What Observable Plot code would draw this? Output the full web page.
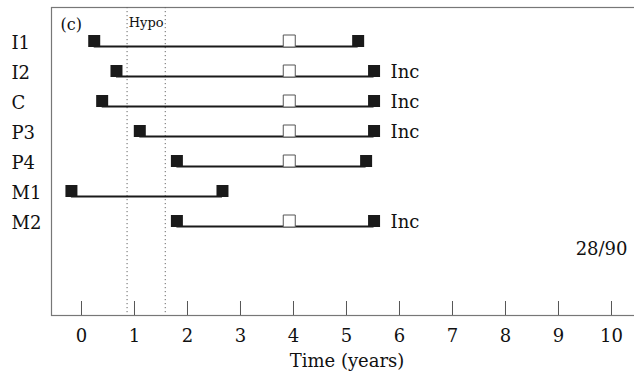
<!DOCTYPE html>
<html>
<head>
<meta charset="utf-8">
<script src="https://cdn.jsdelivr.net/npm/d3@7"></script>
<script src="https://cdn.jsdelivr.net/npm/@observablehq/plot@0.6"></script>
<style>
  html, body { margin: 0; padding: 0; background: #fff; }
  svg text { font-family: "DejaVu Serif", "Liberation Serif", serif; }
</style>
</head>
<body>
<div id="chart"></div>
<script>
// Data
const rows   = ["I1", "I2", "C", "P3", "P4", "M1", "M2"];
const starts = [0.24, 0.66, 0.39, 1.10, 1.80, -0.19, 1.80];
const ends   = [5.22, 5.52, 5.52, 5.52, 5.37, 2.66, 5.52];
const opens  = [3.92, 3.92, 3.92, 3.92, 3.92, null, 3.92];
const inc    = [false, true, true, true, false, false, true];
const hypo   = [0.86, 1.58];
const xTicks = [0, 1, 2, 3, 4, 5, 6, 7, 8, 9, 10];
const panelLabel = "(c)";
const hypoLabel = "Hypo";
const countLabel = "28/90";
const xLabel = "Time (years)";

const table = rows.map((r, i) => ({row: r, start: starts[i], end: ends[i], open: opens[i], inc: inc[i]}));
const endpoints = table.flatMap(d => [{row: d.row, x: d.start}, {row: d.row, x: d.end}]);
const openPts = table.filter(d => d.open != null).map(d => ({row: d.row, x: d.open}));
const incPts = table.filter(d => d.inc);

const serif = "DejaVu Serif";
const sqR = 12 / Math.sqrt(Math.PI);

const chart = Plot.plot({
  width: 634,
  height: 379,
  marginLeft: 51,
  marginRight: 0,
  marginTop: 7,
  marginBottom: 64,
  style: {fontFamily: serif, background: "#fff", color: "#111"},
  x: {domain: [-0.566, 10.434]},
  y: {type: "point", domain: rows, range: [46, 226.6], padding: 0, axis: null},
  marks: [
    Plot.frame({stroke: "#777", strokeWidth: 1.2, insetRight: -3}),
    Plot.ruleX(hypo, {x: d => d, stroke: "#666", strokeWidth: 1, strokeDasharray: "1.2,2.8"}),
    Plot.tickX(xTicks, {x: d => d, insetTop: 294, stroke: "#555", strokeWidth: 1}),
    Plot.axisX({ticks: xTicks, tickSize: 0, tickPadding: 14, fontSize: 18, fontFamily: serif, label: null, tickFormat: d => String(d)}),
    Plot.ruleY(table, {y: "row", x1: "start", x2: "end", stroke: "#1a1a1a", strokeWidth: 1.8}),
    Plot.dot(openPts, {x: "x", y: "row", symbol: "square", r: sqR, dy: -5.5, fill: "#fff", stroke: "#555", strokeWidth: 1}),
    Plot.dot(endpoints, {x: "x", y: "row", symbol: "square", r: sqR, dy: -5.5, fill: "#1a1a1a"}),
    Plot.text(table, {y: "row", text: "row", frameAnchor: "left", textAnchor: "start", dx: -40, dy: -3.5, fontSize: 18, fontFamily: serif}),
    Plot.text(incPts, {x: "end", y: "row", text: () => "Inc", textAnchor: "start", dx: 16.5, dy: -4.5, fontSize: 18, fontFamily: serif}),
    Plot.text([panelLabel], {text: d => d, frameAnchor: "top-left", textAnchor: "start", lineAnchor: "top", dx: 9, dy: 11, fontSize: 16, fontFamily: serif}),
    Plot.text([hypoLabel], {x: () => d3.mean(hypo), text: d => d, frameAnchor: "top", lineAnchor: "top", dy: 10, fontSize: 13, fontFamily: serif}),
    Plot.text([countLabel], {text: d => d, frameAnchor: "right", textAnchor: "end", lineAnchor: "middle", dx: -7, dy: 88, fontSize: 18, fontFamily: serif}),
    Plot.text([xLabel], {text: d => d, frameAnchor: "bottom", lineAnchor: "middle", dx: 4, dy: 46, fontSize: 18, fontFamily: serif})
  ]
});
document.getElementById("chart").appendChild(chart);
</script>
</body>
</html>
